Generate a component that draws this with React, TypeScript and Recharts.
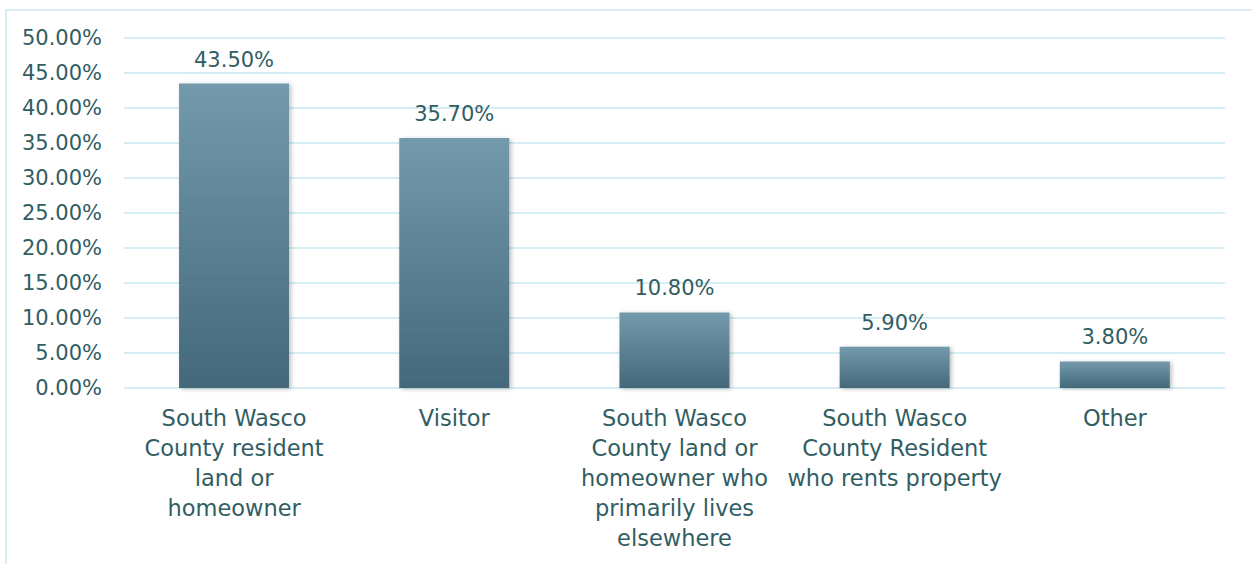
import { BarChart, Bar, XAxis, YAxis, CartesianGrid, LabelList } from 'recharts'

// ── Data ──────────────────────────────────────────────────────────────────────
const categories = [
  'South Wasco\nCounty resident\nland or\nhomeowner',
  'Visitor',
  'South Wasco\nCounty land or\nhomeowner who\nprimarily lives\nelsewhere',
  'South Wasco\nCounty Resident\nwho rents property',
  'Other',
]
const shares = [43.5, 35.7, 10.8, 5.9, 3.8]
const yTicks = [0, 5, 10, 15, 20, 25, 30, 35, 40, 45, 50]

const data = categories.map((name, i) => ({ name, value: shares[i] }))

// ── Theme ─────────────────────────────────────────────────────────────────────
const C = {
  text: '#315d63',
  grid: '#d6eef3',
  border: '#d9eef2',
  barTop: '#739aac',
  barBottom: '#44687a',
}
const FONT = '"DejaVu Sans", sans-serif'
const FS = 21

// ── Multi-line category tick ──────────────────────────────────────────────────
function CategoryTick({ x, y, payload }: any) {
  const lines = String(payload.value).split('\n')
  return (
    <text x={x} y={y} textAnchor="middle" fill={C.text} fontSize={22.5} fontFamily={FONT}>
      {lines.map((l, i) => (
        <tspan key={i} x={x} dy={30}>{l}</tspan>
      ))}
    </text>
  )
}

export default function App() {
  return (
    <div style={{ position: 'absolute', left: 0, top: 0, width: 1252, height: 564, background: '#fff', overflow: 'hidden' }}>
      <div style={{ position: 'absolute', left: 5, top: 9, width: 1300, height: 700, border: `2px solid ${C.border}` }} />
      <div style={{ position: 'absolute', left: 0, top: 0 }}>
        <BarChart
          width={1252}
          height={564}
          data={data}
          margin={{ top: 38, right: 27, bottom: 0, left: 0 }}
          barCategoryGap="25%"
        >
          <defs>
            <linearGradient id="barGrad" x1="0" y1="0" x2="0" y2="1">
              <stop offset="0%" stopColor={C.barTop} />
              <stop offset="100%" stopColor={C.barBottom} />
            </linearGradient>
            <filter id="barShadow" x="-10%" y="-10%" width="125%" height="120%">
              <feDropShadow dx="2" dy="1" stdDeviation="2" floodColor="#000" floodOpacity="0.25" />
            </filter>
          </defs>
          <CartesianGrid vertical={false} stroke={C.grid} strokeWidth={2} />
          <YAxis
            width={124}
            domain={[0, 50]}
            ticks={yTicks}
            axisLine={false}
            tickLine={false}
            tickSize={0}
            tickMargin={22}
            interval={0}
            tickFormatter={(v: number) => `${v.toFixed(2)}%`}
            tick={{ fill: C.text, fontSize: FS, fontFamily: FONT }}
          />
          <XAxis
            dataKey="name"
            height={176}
            axisLine={false}
            tickLine={false}
            interval={0}
            tick={<CategoryTick />}
          />
          <Bar
            dataKey="value"
            fill="url(#barGrad)"
            filter="url(#barShadow)"
            isAnimationActive={false}
          >
            <LabelList
              dataKey="value"
              position="top"
              offset={17}
              formatter={(v: any) => `${Number(v).toFixed(2)}%`}
              style={{ fill: C.text, fontSize: FS, fontFamily: FONT }}
            />
          </Bar>
        </BarChart>
      </div>
    </div>
  )
}
